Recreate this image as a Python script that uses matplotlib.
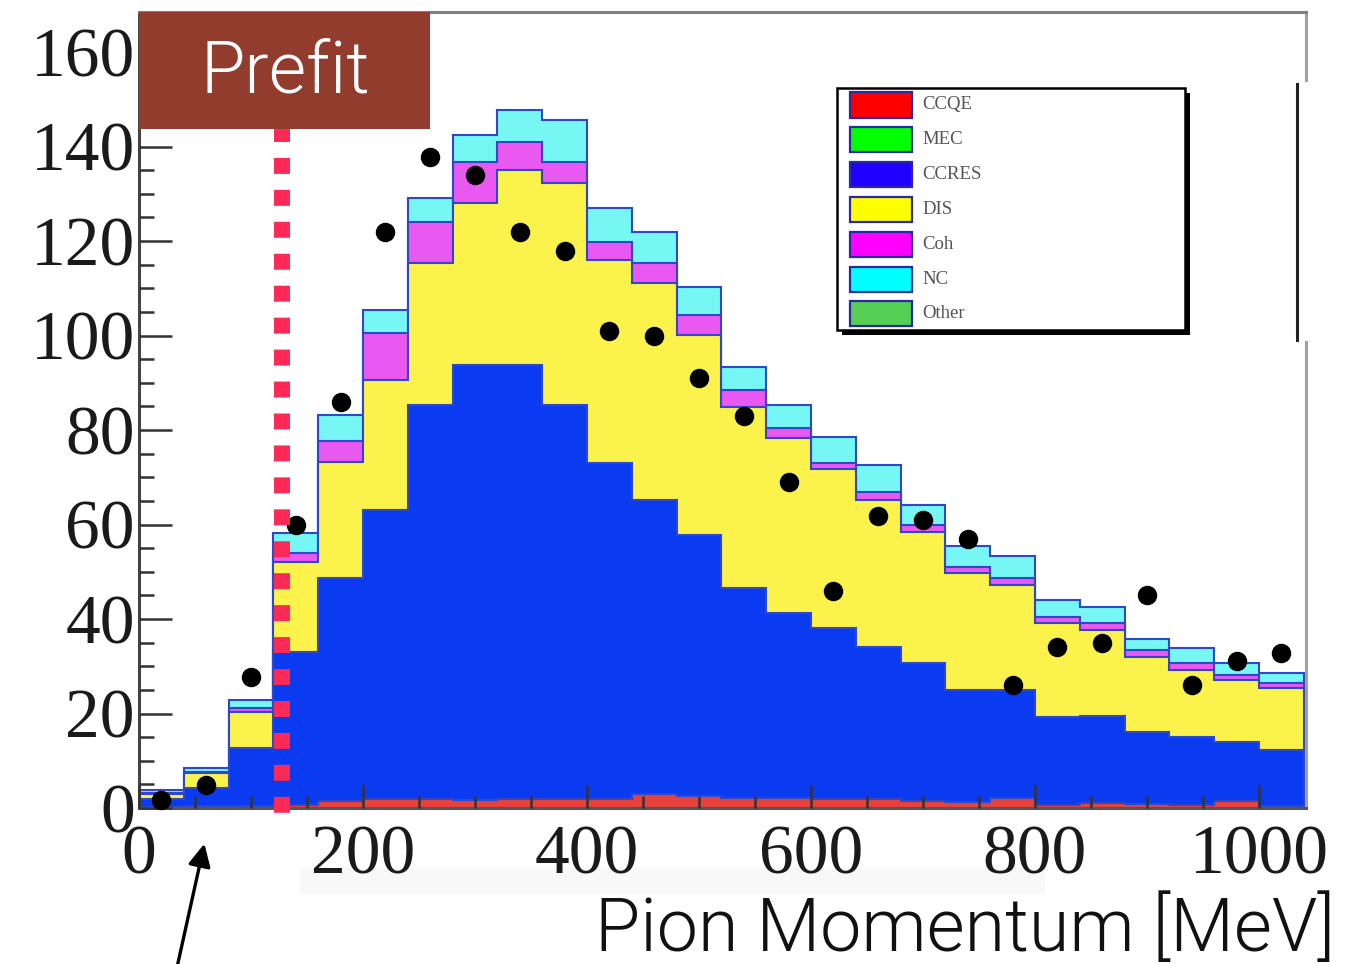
import numpy as np
import matplotlib
matplotlib.use("Agg")
import matplotlib.pyplot as plt
from matplotlib.patches import Rectangle
from matplotlib.lines import Line2D
from matplotlib.ticker import MultipleLocator

W, H, DPI = 1362, 964, 100

# ---- data: pion momentum, 26 bins of 40 MeV ----
bin_edges = np.arange(0, 1041, 40)
ccqe  = [0.3, 0.4, 0.5, 0.7, 1.5, 1.8, 1.8, 1.7, 1.8, 1.8, 1.8, 3.0, 2.6,
         2.2, 2.2, 2.0, 1.8, 1.5, 1.3, 2.2, 0.6, 1.0, 0.8, 0.6, 1.5, 0.5]
ccres = [1.6, 3.8, 12.2, 32.3, 47.2, 61.3, 83.5, 92.1, 92.0, 83.5, 71.2, 62.2, 55.2,
         44.4, 39.1, 36.1, 32.3, 29.2, 23.7, 22.8, 18.7, 18.5, 15.3, 14.4, 12.5, 11.8]
dis   = [1.1, 3.2, 7.6, 19.0, 24.5, 27.5, 30.0, 34.2, 41.2, 47.0, 43.0, 45.9, 42.3,
         38.3, 37.0, 33.6, 31.1, 27.7, 24.7, 22.2, 19.9, 18.2, 15.9, 14.2, 13.1, 13.1]
coh   = [0.1, 0.2, 0.9, 1.9, 4.5, 9.9, 8.7, 8.7, 6.0, 4.4, 3.8, 4.2, 4.2,
         3.6, 2.1, 1.3, 1.7, 1.5, 1.3, 1.5, 1.2, 1.5, 1.4, 1.5, 1.0, 1.1]
nc    = [0.7, 0.9, 1.7, 4.3, 5.5, 4.9, 5.1, 5.7, 6.7, 8.9, 7.2, 6.6, 6.0,
         4.8, 4.9, 5.5, 5.7, 4.2, 4.4, 4.6, 3.6, 3.3, 2.4, 3.2, 2.6, 2.1]
data  = [1.7, 4.9, 27.7, 59.9, 85.9, 121.9, 137.8, 134.0, 121.9, 117.9, 101.0, 99.9, 91.0,
         83.0, 69.0, 45.9, 61.8, 61.0, 56.9, 26.0, 34.1, 34.9, 45.1, 26.0, 31.1, 32.8]

x_ticks = [0, 200, 400, 600, 800, 1000]
y_ticks = [0, 20, 40, 60, 80, 100, 120, 140, 160]
legend_labels = ["CCQE", "MEC", "CCRES", "DIS", "Coh", "NC", "Other"]
legend_colors = ["#ff0000", "#00ff00", "#1f00ff", "#ffff00", "#ff00ff", "#00ffff", "#55d055"]
prefit_cut = 128

# stack order bottom -> top with fill colours
layers = [ccqe, ccres, dis, coh, nc]
fills = ["#e8403a", "#0a3bf0", "#fbf24b", "#e958f0", "#77f7f4"]
edge = "#2f48c8"

fig = plt.figure(figsize=(W / DPI, H / DPI), dpi=DPI)

def fx(x):
    return x / W

def fy(y):
    return 1 - y / H

ax_l, ax_r, ax_t, ax_b = 139, 1306, 12, 808
ax = fig.add_axes([fx(ax_l), fy(ax_b), (ax_r - ax_l) / W, (ax_b - ax_t) / H])
ax.set_xlim(0, 1042)
ax.set_ylim(0, (ax_b - ax_t) / 4.725)

# stacked histogram drawn from the cumulative top down
cum = np.cumsum(np.array(layers), axis=0)
for i in range(len(layers) - 1, -1, -1):
    ax.stairs(cum[i], bin_edges, baseline=0, fill=True, facecolor=fills[i],
              edgecolor=edge, linewidth=1.5, zorder=1 + (len(layers) - i) * 0.1)

centers = 0.5 * (bin_edges[:-1] + bin_edges[1:])
ax.plot(centers, data, "o", color="black", ms=13, zorder=4, clip_on=False)

# prefit cut marker
px_per_unit = 4.725
ax.plot([prefit_cut, prefit_cut], [(ax_b - 126) / px_per_unit, (ax_b - 814) / px_per_unit],
        color="#fb2a56", lw=11.5, linestyle=(0, (1, 1)), dash_capstyle="butt",
        solid_capstyle="butt", zorder=5, clip_on=False)

# axes styling
ax.set_axisbelow(False)
serif = "Liberation Serif"
ax.set_xticks(x_ticks)
ax.set_yticks(y_ticks)
ax.set_xticklabels([str(v) for v in x_ticks], fontsize=50, family=serif, color="#1a1a1a")
ax.set_yticklabels([str(v) for v in y_ticks], fontsize=50, family=serif, color="#1a1a1a")
ax.xaxis.set_minor_locator(MultipleLocator(50))
ax.yaxis.set_minor_locator(MultipleLocator(5))
ax.tick_params(axis="both", which="both", direction="in", color="#333333", width=1.8)
ax.tick_params(axis="x", which="major", length=16.5, pad=12)
ax.tick_params(axis="x", which="minor", length=8.6)
ax.tick_params(axis="y", which="major", length=24, pad=3)
ax.tick_params(axis="y", which="minor", length=11)
ax.spines["left"].set_color("#444444")
ax.spines["bottom"].set_color("#555555")
ax.spines["top"].set_color("#808080")
ax.spines["right"].set_color("#a0a0a0")
for s in ax.spines.values():
    s.set_linewidth(2.2)

# faint band behind the tick labels
fig.patches.append(Rectangle((fx(300), fy(894)), (1045 - 300) / W, 26 / H,
                             transform=fig.transFigure, facecolor="#f8f8f8",
                             edgecolor="none", zorder=-1))

# Prefit banner
sans = "Roboto"
fig.patches.append(Rectangle((fx(139), fy(129)), (430 - 139) / W, (129 - 12) / H,
                             transform=fig.transFigure, facecolor="#923c2e",
                             edgecolor="none", zorder=10))
fig.text(fx(285), fy(73), "Prefit", color="white", fontsize=52, family=sans,
         fontweight=300, ha="center", va="center", zorder=11)

# right-hand frame segment
fig.patches.append(Rectangle((fx(1300), fy(341)), 14 / W, (341 - 82) / H,
                             transform=fig.transFigure, facecolor="white",
                             edgecolor="none", zorder=10))
fig.lines.append(Line2D([fx(1297), fx(1297)], [fy(84), fy(340)], transform=fig.transFigure,
                        color="#222222", lw=2.2, zorder=11))

# legend box with shadow
lg_l, lg_r, lg_t, lg_b = 837, 1185, 88, 330
fig.patches.append(Rectangle((fx(lg_l + 5), fy(lg_b + 5)), (lg_r - lg_l) / W, (lg_b - lg_t) / H,
                             transform=fig.transFigure, facecolor="black",
                             edgecolor="none", zorder=12))
fig.patches.append(Rectangle((fx(lg_l), fy(lg_b)), (lg_r - lg_l) / W, (lg_b - lg_t) / H,
                             transform=fig.transFigure, facecolor="white",
                             edgecolor="black", lw=1.8, zorder=13))
for i, (lab, col) in enumerate(zip(legend_labels, legend_colors)):
    yc = 105 + i * 34.8
    fig.patches.append(Rectangle((fx(850), fy(yc + 12.5)), 62 / W, 25 / H,
                                 transform=fig.transFigure, facecolor=col,
                                 edgecolor="#2a2aa0", lw=1.6, zorder=14))
    fig.text(fx(922), fy(yc), lab, fontsize=13.5, family=serif, color="#555555",
             ha="left", va="center", zorder=15)

# axis title
fig.text(fx(1335), fy(951), "Pion Momentum [MeV]", fontsize=53, family=sans,
         fontweight=300, color="#111111", ha="right", va="baseline")

# arrow pointing at the low-momentum bins
ax.annotate("", xy=(205, H - 841), xytext=(172, H - 990), xycoords="figure pixels",
            textcoords="figure pixels",
            arrowprops=dict(arrowstyle="-|>", color="black", lw=2.4, mutation_scale=34),
            annotation_clip=False)

fig.savefig("out.png", dpi=DPI)
